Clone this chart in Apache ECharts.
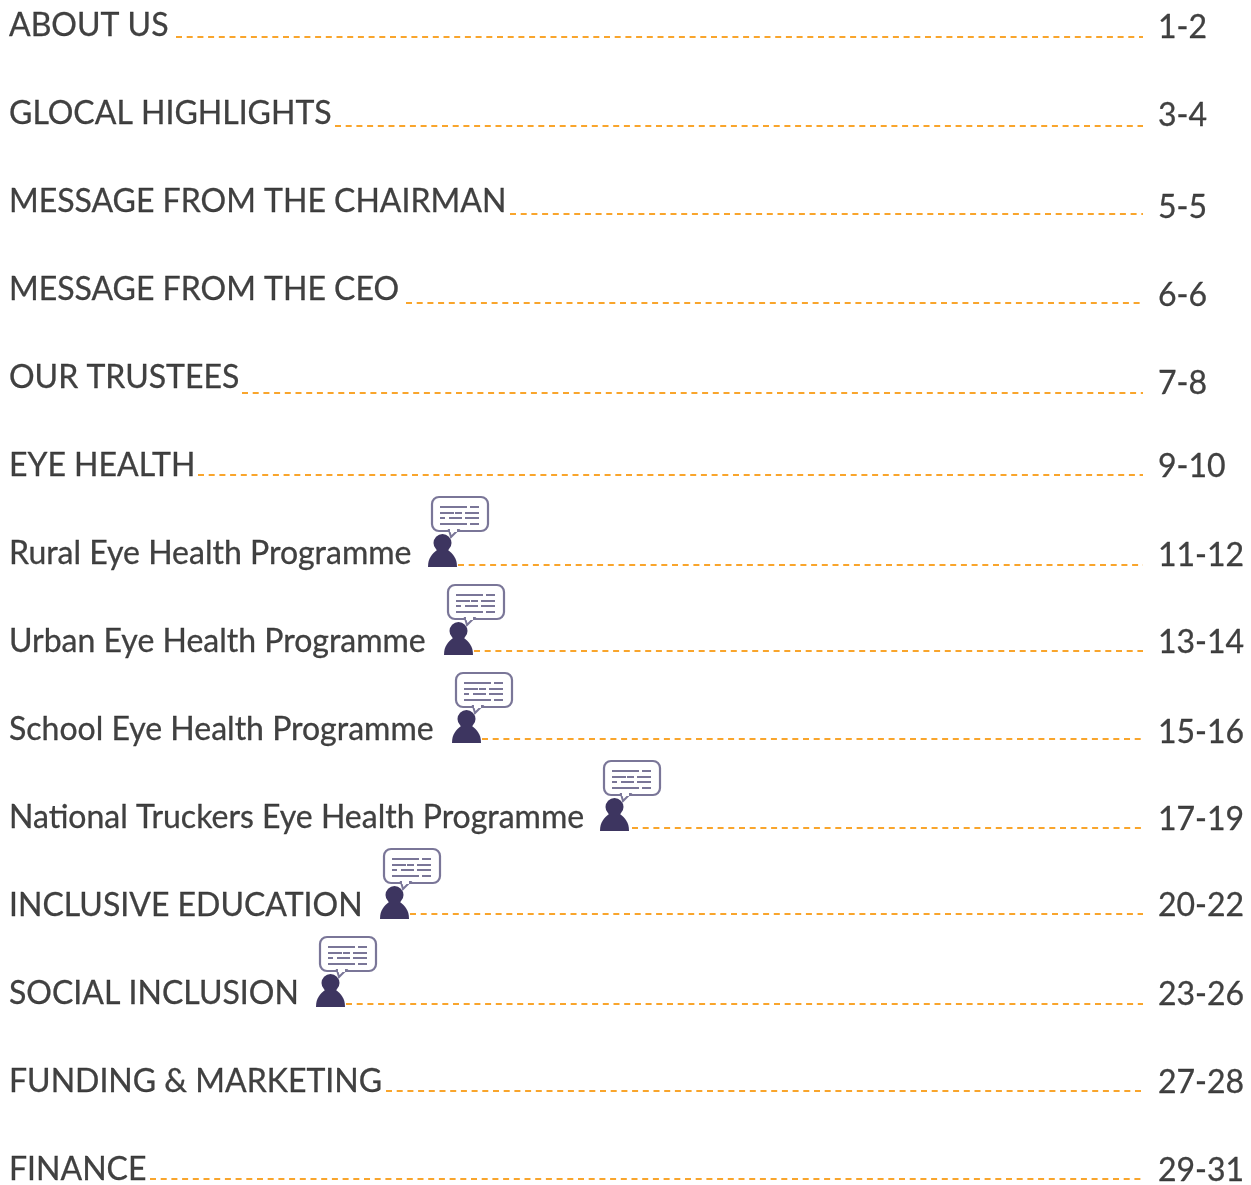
<!DOCTYPE html>
<html>
<head>
<meta charset="utf-8">
<style>
html,body{margin:0;padding:0;background:#fff;}
#chart{width:1251px;height:1185px;}
</style>
<script src="https://cdn.jsdelivr.net/npm/echarts@6/dist/echarts.min.js"></script>
</head>
<body>
<div id="chart"></div>
<script>
const titles = ['ABOUT US','GLOCAL HIGHLIGHTS','MESSAGE FROM THE CHAIRMAN','MESSAGE FROM THE CEO','OUR TRUSTEES','EYE HEALTH',
  'Rural Eye Health Programme','Urban Eye Health Programme','School Eye Health Programme','National Truckers Eye Health Programme',
  'INCLUSIVE EDUCATION','SOCIAL INCLUSION','FUNDING & MARKETING','FINANCE'];
const pages = ['1-2','3-4','5-5','6-6','7-8','9-10','11-12','13-14','15-16','17-19','20-22','23-26','27-28','29-31'];
// x and y axes run 0-1251 and 0-1185
const titleY = [26,114,202,290,378,466,554,642,730,818,906,994,1082,1170];
const pageY = [28,116,208,296,384,467,556,643,733,820,906,995,1083,1171];
const leaderY = [37,126,214,303,393,475,565,651,739,828,914,1004,1091,1179];
const leaderStart = [176,335,510,406,242,198,458,474,482,632,410,346,386,150];
const iconRows = [6,7,8,9,10,11];
const iconStart = [428,444,452,600,380,316];

const titleLeft = 9, pageLeft = 1158, leaderEnd = 1143;

const chart = echarts.init(document.getElementById('chart'));

// person with a speech bubble, local origin is left edge of person on the title row
function renderIcon(params, api) {
  const p = api.coord([api.value(0), api.value(1)]);
  const ink = '#3d3560', soft = '#7a7698';
  // the little text lines inside the bubble: [y, from, to]
  const lines = [[-47,12,39],[-47,42,51],[-41,12,26],[-41,27,34],[-41,37,51],[-36,12,17],[-36,21,34],[-36,37,51],[-30,12,39],[-30,42,51]];
  const children = [
    {type:'rect', shape:{x:4,y:-56,width:56,height:34,r:7}, style:{fill:'#fff',stroke:soft,lineWidth:2.2}},
    {type:'polygon', shape:{points:[[21,-23],[30,-23],[23,-16]]}, style:{fill:'#fff',stroke:soft,lineWidth:2}},
    {type:'rect', shape:{x:22,y:-24,width:7,height:3}, style:{fill:'#fff'}},
    {type:'circle', shape:{cx:14.5,cy:-10,r:9}, style:{fill:ink}},
    {type:'path', shape:{pathData:'M0 14 C0 5 4 1 9 -3 L20 -3 C25 1 29 5 29 14 Z'}, style:{fill:ink}}
  ];
  lines.forEach(function (l) {
    children.push({type:'rect', shape:{x:l[1],y:l[0],width:l[2]-l[1],height:2}, style:{fill:soft}});
  });
  return {type:'group', x:p[0], y:p[1], children:children};
}

const textStyle = {show:true, position:'right', distance:0, fontFamily:'Lato', fontSize:32, color:'#111', textBorderColor:'#111', textBorderWidth:0.3};

chart.setOption({
  animation:false,
  backgroundColor:'#fff',
  grid:{left:0,right:0,top:0,bottom:0},
  xAxis:{type:'value',min:0,max:1251,show:false},
  yAxis:{type:'value',min:0,max:1185,inverse:true,show:false},
  series:[
    {
      type:'lines',
      coordinateSystem:'cartesian2d',
      silent:true,
      polyline:false,
      lineStyle:{color:'#f9a52c',width:2,type:[6,4.7],opacity:1},
      data:leaderStart.map(function (x,i) {
        return {coords:[[x,leaderY[i]],[leaderEnd,leaderY[i]]]};
      })
    },
    {
      type:'scatter',
      symbolSize:0,
      silent:true,
      clip:false,
      label:Object.assign({formatter:function (p) { return titles[p.dataIndex]; }}, textStyle),
      data:titleY.map(function (y) { return [titleLeft,y]; })
    },
    {
      type:'scatter',
      symbolSize:0,
      silent:true,
      clip:false,
      label:Object.assign({formatter:function (p) { return pages[p.dataIndex]; }}, textStyle),
      data:pageY.map(function (y) { return [pageLeft,y]; })
    },
    {
      type:'custom',
      silent:true,
      clip:false,
      renderItem:renderIcon,
      data:iconRows.map(function (r,i) { return [iconStart[i],titleY[r]-1]; })
    }
  ]
});
</script>
</body>
</html>
